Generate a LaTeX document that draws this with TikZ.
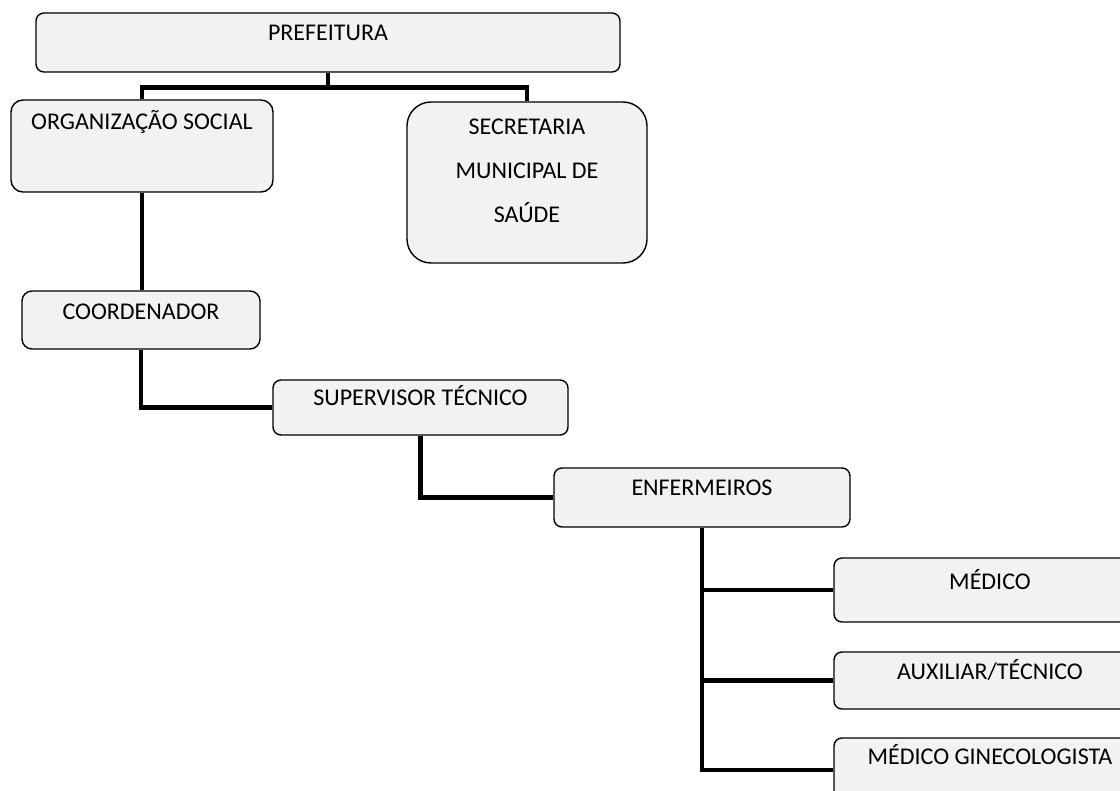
\documentclass[tikz,border=0pt]{standalone}
\usepackage{fontspec}
\setmainfont{Carlito}
\usepackage{tikz}
\definecolor{boxgray}{gray}{0.95}
\tikzset{
	orgbox/.style={draw, line width=0.7pt, fill=boxgray, rounded corners=4pt, inner sep=0pt, font=\fontsize{12}{22}\selectfont},
	orgline/.style={line width=2.2pt}
}

\begin{document}
\begin{tikzpicture}[x=0.5pt, y=-0.5pt]
			\useasboundingbox (0, 0) rectangle (1120, 791);
			\clip (0, 0) rectangle (1120, 791);
			\node at (328, 42.5) [orgbox, minimum width=292pt, text height=13.75pt, text depth=15.75pt] (pref) {PREFEITURA};
			\node at (142, 146) [orgbox, rounded corners=6pt, minimum width=131pt, text height=14.75pt, text depth=31.25pt] (os) {ORGANIZAÇÃO SOCIAL};
			\node at (527, 182.5) [orgbox, rounded corners=12pt, align=center, minimum width=120pt, text height=60.25pt, text depth=20.25pt] (sms) {SECRETARIA\\MUNICIPAL DE\\SAÚDE};
			\node at (141, 320) [orgbox, rounded corners=5pt, minimum width=119pt, text height=14.25pt, text depth=14.75pt] (coord) {COORDENADOR};
			\node at (420.5, 407.5) [orgbox, minimum width=147.5pt, text height=12.75pt, text depth=14.75pt] (sup) {SUPERVISOR TÉCNICO};
			\node at (702, 497.5) [orgbox, minimum width=148pt, text height=13.75pt, text depth=15.75pt] (enf) {ENFERMEIROS};
			\node at (990, 590) [orgbox, minimum width=156pt, text height=15.75pt, text depth=16.25pt] (med) {MÉDICO};
			\node at (990, 680.5) [orgbox, minimum width=156pt, text height=13.75pt, text depth=14.75pt] (aux) {AUXILIAR/TÉCNICO};
			\node at (990, 770) [orgbox, minimum width=156pt, text height=13.25pt, text depth=18.75pt] (gin) {MÉDICO GINECOLOGISTA};
			\draw [orgline](pref.south) -- ++(0, 15) coordinate (bus);
			\draw [orgline](os.north) |- (bus) -| (sms.north);
			\draw [orgline](os.south) -- (os.south |- coord.north);
			\draw [orgline](coord.south) |- (sup.west);
			\draw [orgline](sup.south) |- (enf.west);
			\draw [orgline](enf.south) |- (med.west);
			\draw [orgline](enf.south) |- (aux.west);
			\draw [orgline](enf.south) |- (gin.west);
		\end{tikzpicture}
\end{document}
